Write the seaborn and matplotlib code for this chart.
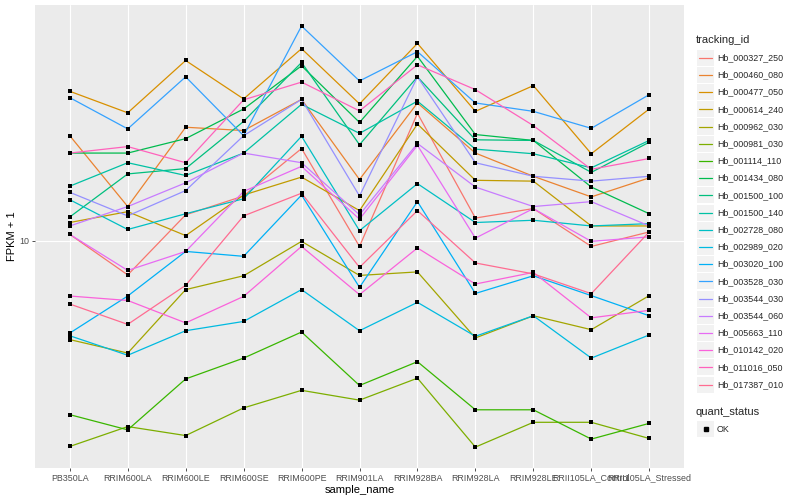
import pandas as pd
import matplotlib
matplotlib.use("Agg")
import matplotlib.pyplot as plt
from matplotlib.lines import Line2D
from matplotlib.patches import Rectangle
from matplotlib.ticker import FixedLocator, NullLocator
import seaborn as sns

# samples on the x axis
samples = ["PB350LA", "RRIM600LA", "RRIM600LE", "RRIM600SE", "RRIM600PE",
           "RRIM901LA", "RRIM928BA", "RRIM928LA", "RRIM928LE",
           "RRII105LA_Control", "RRII105LA_Stressed"]

tracking_ids = ["Hb_000327_250", "Hb_000460_080", "Hb_000477_050", "Hb_000614_240",
                "Hb_000962_030", "Hb_000981_030", "Hb_001114_110", "Hb_001434_080",
                "Hb_001500_100", "Hb_001500_140", "Hb_002728_080", "Hb_002989_020",
                "Hb_003020_100", "Hb_003528_030", "Hb_003544_030", "Hb_003544_060",
                "Hb_005663_110", "Hb_010142_020", "Hb_011016_050", "Hb_017387_010"]

# FPKM + 1 per gene, in sample order
hb_000327_250 = [10.5, 7.69, 12.2, 14.1, 20.3, 9.57, 26.6, 11.9, 12.8, 9.57, 10.7]
hb_000460_080 = [22.4, 13.0, 23.9, 23.3, 29.6, 16.0, 28.8, 19.6, 16.4, 14.0, 16.2]
hb_000477_050 = [31.5, 26.7, 39.9, 29.7, 43.7, 28.6, 45.5, 27.0, 32.9, 19.5, 27.5]
hb_000614_240 = [11.5, 12.5, 10.4, 14.2, 16.3, 12.6, 24.5, 15.9, 15.8, 11.2, 11.2]
hb_000962_030 = [4.68, 4.22, 6.87, 7.64, 9.95, 7.66, 7.87, 4.74, 5.62, 5.05, 6.56]
hb_000981_030 = [2.06, 2.40, 2.24, 2.77, 3.17, 2.94, 3.48, 2.05, 2.48, 2.48, 2.19]
hb_001114_110 = [2.63, 2.34, 3.46, 4.06, 4.96, 3.29, 3.95, 2.73, 2.73, 2.18, 2.46]
hb_001434_080 = [19.6, 19.6, 21.9, 27.5, 38.3, 24.8, 41.2, 22.6, 21.6, 15.1, 12.3]
hb_001500_100 = [12.0, 16.7, 17.4, 25.0, 39.3, 20.9, 35.2, 21.7, 21.6, 16.9, 21.3]
hb_001500_140 = [15.2, 18.2, 16.5, 19.6, 28.5, 22.8, 29.2, 20.2, 19.5, 17.5, 21.6]
hb_002728_080 = [13.7, 10.9, 12.3, 13.8, 22.3, 10.8, 15.5, 11.5, 11.7, 11.2, 11.4]
hb_002989_020 = [4.82, 4.15, 5.01, 5.38, 6.87, 5.01, 6.23, 4.80, 5.62, 4.06, 4.85]
hb_003020_100 = [4.92, 6.54, 9.21, 8.87, 14.2, 6.99, 13.5, 6.67, 7.64, 6.56, 5.62]
hb_003528_030 = [30.0, 23.6, 35.2, 22.4, 52.0, 34.1, 42.7, 28.8, 27.0, 23.7, 30.7]
hb_003544_030 = [14.5, 12.1, 14.7, 22.4, 29.6, 14.1, 35.2, 18.2, 16.4, 15.8, 16.4]
hb_003544_060 = [11.2, 13.0, 15.6, 19.6, 18.2, 12.2, 21.1, 15.1, 13.0, 13.5, 11.2]
hb_005663_110 = [10.5, 7.96, 9.21, 14.6, 17.7, 11.8, 20.8, 10.2, 12.8, 9.95, 10.3]
hb_010142_020 = [6.54, 6.32, 5.32, 6.52, 9.57, 6.61, 9.46, 7.17, 7.84, 5.53, 5.86]
hb_011016_050 = [19.6, 20.6, 18.2, 29.5, 33.8, 27.1, 38.6, 31.9, 24.2, 17.3, 18.8]
hb_017387_010 = [6.15, 5.26, 7.10, 12.1, 14.4, 8.15, 12.6, 8.43, 7.75, 6.66, 10.7]

series = [hb_000327_250, hb_000460_080, hb_000477_050, hb_000614_240, hb_000962_030,
          hb_000981_030, hb_001114_110, hb_001434_080, hb_001500_100, hb_001500_140,
          hb_002728_080, hb_002989_020, hb_003020_100, hb_003528_030, hb_003544_030,
          hb_003544_060, hb_005663_110, hb_010142_020, hb_011016_050, hb_017387_010]

# ggplot default hue palette for 20 levels
id_colors = ["#F8766D", "#EA8331", "#D89000", "#C09B00", "#A3A500",
             "#7CAE00", "#39B600", "#00BB4E", "#00BF7D", "#00C1A3",
             "#00BFC4", "#00BAE0", "#00B0F6", "#35A2FF", "#9590FF",
             "#C77CFF", "#E76BF3", "#FA62DB", "#FF62BC", "#FF6C91"]

rows = []
for tid, vals in zip(tracking_ids, series):
    for s, v in zip(samples, vals):
        rows.append((tid, s, v))
df = pd.DataFrame(rows, columns=["tracking_id", "sample_name", "fpkm1"])
df["quant_status"] = "OK"

sns.set_theme(style="dark")
plt.rcParams['font.family'] = ['Liberation Sans', 'DejaVu Sans']

W, H = 800, 500
fig = plt.figure(figsize=(8, 5), dpi=100)
fig.patch.set_facecolor("white")
ax = fig.add_axes([35 / W, 1 - 468 / H, (684 - 35) / W, (468 - 5) / H])
ax.set_facecolor("#EBEBEB")

sns.lineplot(data=df, x="sample_name", y="fpkm1", hue="tracking_id",
             palette=id_colors, hue_order=tracking_ids, sort=False,
             estimator=None, lw=0.9, legend=False, ax=ax, zorder=2)
sns.scatterplot(data=df, x="sample_name", y="fpkm1", color="black", marker="s",
                s=11, linewidth=0, legend=False, ax=ax, zorder=3)

ax.set_yscale("log")
ax.set_ylim(1.746, 61.1)
ax.set_xlim(-0.6, len(samples) - 0.4)
ax.yaxis.set_major_locator(FixedLocator([10]))
ax.yaxis.set_minor_locator(NullLocator())
ax.set_yticklabels(["10"])
ax.set_xticks(range(len(samples)))
ax.set_xticklabels(samples)

ax.grid(True, which="major", color="white", linewidth=0.8)
ax.set_axisbelow(True)
for sp in ax.spines.values():
    sp.set_visible(False)
ax.tick_params(axis="both", length=2.5, width=0.6, color="#333333",
               labelcolor="#4D4D4D", labelsize=6.4, pad=1.5, bottom=True, left=True)

ax.set_xlabel("sample_name", fontsize=8, color="black", labelpad=2)
ax.set_ylabel("FPKM + 1", fontsize=8, color="black", labelpad=2)


def px(x, y):
    return x / W, 1 - y / H


# legend, drawn ggplot style
fig.text(*px(696, 40), "tracking_id", fontsize=8, va="center", ha="left")
y0, step = 57.7, 17.2
for i, (tid, c) in enumerate(zip(tracking_ids, id_colors)):
    yc = y0 + i * step
    fig.add_artist(Rectangle(px(697, yc + 8), 17 / W, 16 / H,
                             transform=fig.transFigure, facecolor="#F2F2F2",
                             edgecolor="none"))
    fig.add_artist(Line2D([699 / W, 712 / W], [1 - yc / H, 1 - yc / H],
                          transform=fig.transFigure, color=c, lw=0.9))
    fig.text(*px(717, yc), tid, fontsize=6.4, va="center", ha="left")

fig.text(*px(696, 412), "quant_status", fontsize=8, va="center", ha="left")
fig.add_artist(Rectangle(px(697, 437), 17 / W, 16 / H, transform=fig.transFigure,
                         facecolor="#F2F2F2", edgecolor="none"))
fig.add_artist(Line2D([705.5 / W], [1 - 429 / H], transform=fig.transFigure,
                      marker="s", markersize=2.6, color="black", lw=0))
fig.text(*px(717, 429), "OK", fontsize=6.4, va="center", ha="left")

fig.savefig("out.png", dpi=100)
